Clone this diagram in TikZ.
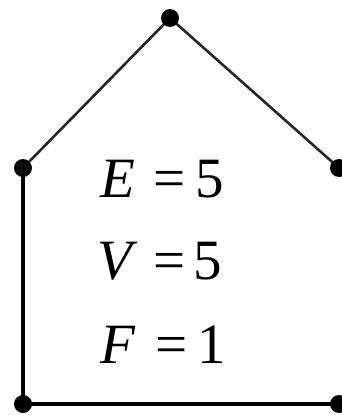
\documentclass[tikz,border=0pt]{standalone}
\usepackage{fontspec}
\setmainfont{Liberation Serif}
\tikzset{
  vdot/.style={circle,fill=black,inner sep=0pt,minimum size=18pt},
  roof/.style={line width=2.6pt,draw=black!85},
  wall/.style={line width=3.8pt,draw=black},
  eq/.style={anchor=base west,inner sep=0pt,font=\fontsize{57}{60}\selectfont}
}
\begin{document}
\begin{tikzpicture}[x=1pt,y=-1pt]
\useasboundingbox (0,0) rectangle (341,415);
\coordinate (T) at (170,18);
\coordinate (L) at (23,168);
\coordinate (R) at (339,168);
\coordinate (BL) at (23,404);
\coordinate (BR) at (339,404);
\draw[roof] (T) -- (L);
\draw[roof] (T) -- (R);
\draw[wall] (L) -- (BL);
\draw[wall] (BL) -- (BR);
\node[vdot] (nT) at (T) {};
\node[vdot] (nL) at (L) {};
\node[vdot] (nR) at (R) {};
\node[vdot] (nBL) at (BL) {};
\node[vdot] (nBR) at (BR) {};
\node[eq] (e1) at (100,197) {\textit{E}};
\node[eq] (e2) at (153,197) {=};
\node[eq] (e3) at (195,197) {5};
\node[eq] (v1) at (97,279) {\textit{V}};
\node[eq] (v2) at (153,279) {=};
\node[eq] (v3) at (193,279) {5};
\node[eq] (f1) at (100,363) {\textit{F}};
\node[eq] (f2) at (155,363) {=};
\node[eq] (f3) at (197,363) {1};
\end{tikzpicture}
\end{document}
